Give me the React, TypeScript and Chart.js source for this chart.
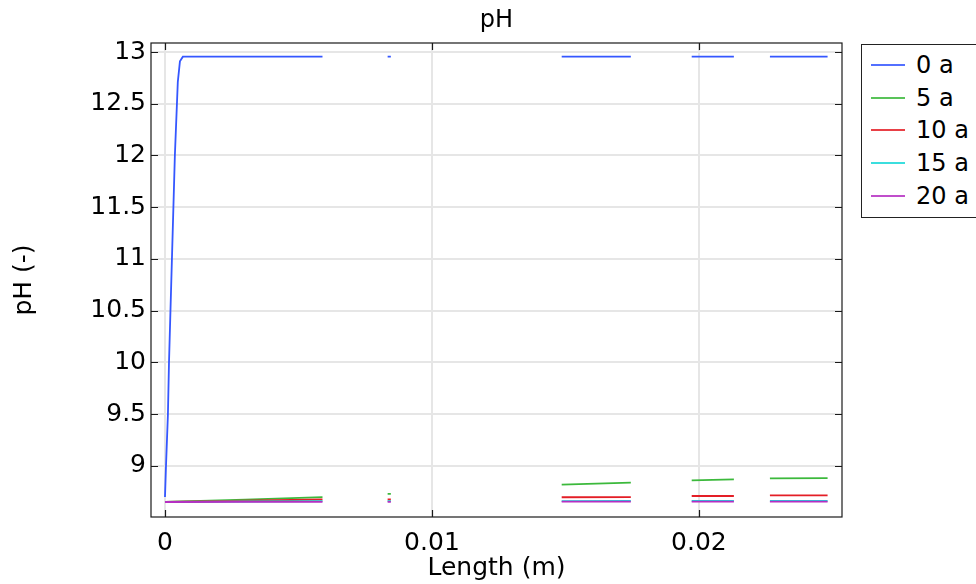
import React, { useEffect, useRef } from "react";
import { Chart, registerables } from "chart.js";

Chart.register(...registerables);

// ---- data (Length in m, pH) ----
const seriesLabels = ["0 a", "5 a", "10 a", "15 a", "20 a"];
const seriesColors = ["#3557ff", "#3cb93c", "#e41e26", "#19d8d8", "#b52fc2"];

// x positions of the sampled points (null y = gap between data blocks)
const xBlue = [0, 0.0000375, 0.00011, 0.00015, 0.00026, 0.00037, 0.00048, 0.00056, 0.00067, 0.0059, 0.007, 0.00834, 0.00846, 0.011, 0.01486, 0.01745, 0.0186, 0.01973, 0.02131, 0.022, 0.02266, 0.02482];
const pH_0a = [8.70, 9.0, 9.5, 10.0, 11.0, 12.0, 12.71, 12.91, 12.955, 12.955, null, 12.955, 12.955, null, 12.955, 12.955, null, 12.955, 12.955, null, 12.955, 12.955];

const xLow = [0, 0.003, 0.0059, 0.007, 0.00834, 0.00846, 0.011, 0.01486, 0.01745, 0.0186, 0.01973, 0.02131, 0.022, 0.02266, 0.02482];
const pH_5a = [8.652, 8.675, 8.70, null, 8.73, 8.73, null, 8.82, 8.84, null, 8.86, 8.87, null, 8.88, 8.882];
const pH_10a = [8.652, 8.664, 8.676, null, 8.676, 8.676, null, 8.698, 8.70, null, 8.71, 8.71, null, 8.715, 8.715];
const pH_15a = [8.654, 8.657, 8.66, null, 8.66, 8.66, null, 8.661, 8.662, null, 8.662, 8.662, null, 8.663, 8.663];
const pH_20a = [8.652, 8.653, 8.654, null, 8.654, 8.654, null, 8.655, 8.655, null, 8.655, 8.655, null, 8.655, 8.655];

const xTicks = [0, 0.01, 0.02];
const yTicks = [9, 9.5, 10, 10.5, 11, 11.5, 12, 12.5, 13];

const FONT = "'DejaVu Sans', sans-serif";

function pts(xs: number[], ys: (number | null)[]) {
  return xs.map((x, i) => ({ x, y: ys[i] }));
}

const framePlugin = {
  id: "frame",
  afterDraw(chart: any) {
    const { ctx, chartArea } = chart;
    const { left, right, top, bottom } = chartArea;
    const xs = chart.scales.x;
    const ys = chart.scales.y;
    ctx.save();
    ctx.strokeStyle = "#1a1a1a";
    ctx.lineWidth = 1.2;
    ctx.strokeRect(left, top, right - left, bottom - top);
    ctx.beginPath();
    const L = 7;
    xTicks.forEach((v) => {
      const px = Math.round(xs.getPixelForValue(v)) + 0.5;
      ctx.moveTo(px, bottom);
      ctx.lineTo(px, bottom - L);
      ctx.moveTo(px, top);
      ctx.lineTo(px, top + L);
    });
    yTicks.forEach((v) => {
      const py = Math.round(ys.getPixelForValue(v)) + 0.5;
      ctx.moveTo(left, py);
      ctx.lineTo(left + L, py);
      ctx.moveTo(right, py);
      ctx.lineTo(right - L, py);
    });
    ctx.stroke();
    // chart title
    ctx.fillStyle = "#000";
    ctx.font = `24px ${FONT}`;
    ctx.textAlign = "center";
    ctx.textBaseline = "alphabetic";
    ctx.fillText("pH", (left + right) / 2, 27);
    ctx.restore();
  },
};

export default function App() {
  const ref = useRef<HTMLCanvasElement | null>(null);

  useEffect(() => {
    if (!ref.current) return;
    const ys = [pH_0a, pH_5a, pH_10a, pH_15a, pH_20a];
    const chart = new Chart(ref.current, {
      type: "line",
      data: {
        datasets: ys.map((y, i) => ({
          label: seriesLabels[i],
          data: pts(i === 0 ? xBlue : xLow, y),
          borderColor: seriesColors[i],
          backgroundColor: seriesColors[i],
          borderWidth: 1.8,
          pointRadius: 0,
          tension: 0,
          spanGaps: false,
          order: ys.length - i,
        })),
      },
      options: {
        responsive: false,
        animation: false,
        devicePixelRatio: 1,
        layout: { padding: { left: 0, right: 134, top: 43, bottom: 0 } },
        plugins: {
          legend: { display: false },
          title: { display: false },
          tooltip: { enabled: false },
        },
        scales: {
          x: {
            type: "linear",
            min: -0.000524,
            max: 0.02536,
            afterFit: (s: any) => {
              s.height = 67;
            },
            afterBuildTicks: (s: any) => {
              s.ticks = xTicks.map((v) => ({ value: v }));
            },
            ticks: {
              includeBounds: false,
              padding: 11,
              color: "#000",
              font: { family: FONT, size: 25 },
              maxRotation: 0,
              callback: (v: any) => String(Number(Number(v).toFixed(4))),
            },
            grid: { color: "#e6e6e6", lineWidth: 2, drawTicks: false },
            border: { display: false },
            title: {
              display: true,
              text: "Length (m)",
              color: "#000",
              font: { family: FONT, size: 25 },
              padding: { top: 0, bottom: 1 },
            },
          },
          y: {
            type: "linear",
            min: 8.507,
            max: 13.087,
            afterFit: (s: any) => {
              s.width = 151;
            },
            afterBuildTicks: (s: any) => {
              s.ticks = yTicks.map((v) => ({ value: v }));
            },
            ticks: {
              includeBounds: false,
              padding: 5,
              color: "#000",
              font: { family: FONT, size: 25 },
              callback: (v: any) => String(Number(Number(v).toFixed(2))),
            },
            grid: { color: "#e6e6e6", lineWidth: 2, drawTicks: false },
            border: { display: false },
            title: {
              display: true,
              text: "pH (-)",
              color: "#000",
              font: { family: FONT, size: 25 },
              padding: { top: 9, bottom: 0 },
            },
          },
        },
      },
      plugins: [framePlugin],
    } as any);
    return () => chart.destroy();
  }, []);

  return (
    <div
      style={{
        position: "fixed",
        left: 0,
        top: 0,
        width: 976,
        height: 584,
        overflow: "hidden",
        background: "#fff",
      }}
    >
      <canvas ref={ref} width={976} height={584} style={{ display: "block" }} />
      <div
        style={{
          position: "absolute",
          left: 861,
          top: 44,
          width: 140,
          height: 172,
          border: "1px solid #222",
          background: "#fff",
          fontFamily: FONT,
          fontSize: 24,
          color: "#000",
        }}
      >
        {seriesLabels.map((lab, i) => (
          <div
            key={lab}
            style={{
              position: "absolute",
              left: 0,
              top: Math.round(4 + i * 32.7),
              height: 32,
              display: "flex",
              alignItems: "center",
              whiteSpace: "nowrap",
            }}
          >
            <span
              style={{
                display: "inline-block",
                marginLeft: 9,
                width: 34,
                height: 2,
                background: seriesColors[i],
                opacity: 0.85,
              }}
            />
            <span style={{ marginLeft: 11, lineHeight: "32px" }}>{lab}</span>
          </div>
        ))}
      </div>
    </div>
  );
}
